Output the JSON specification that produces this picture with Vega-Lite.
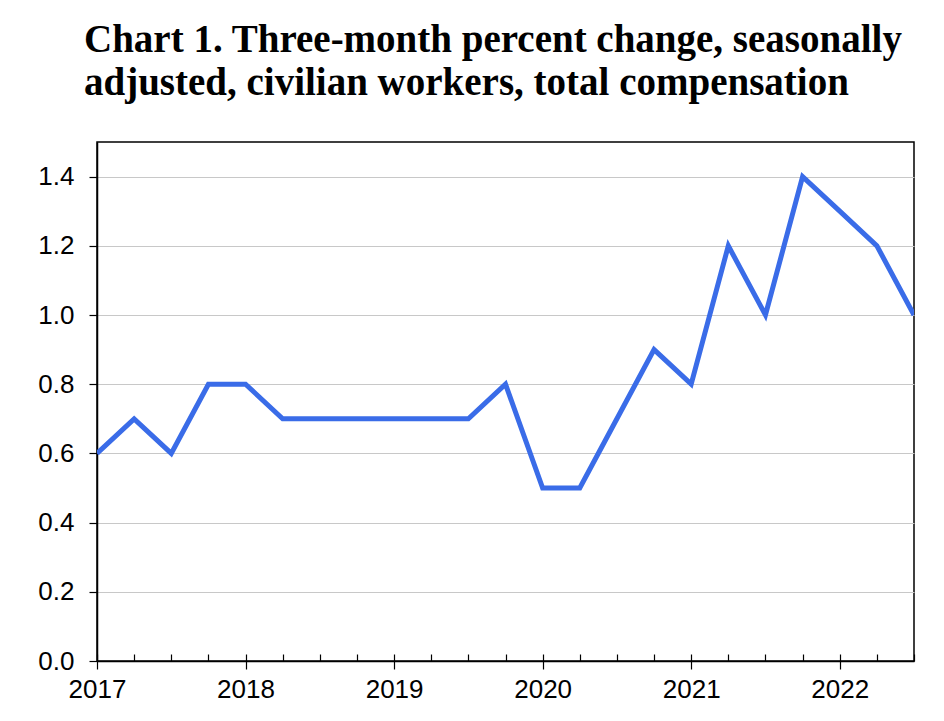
{
  "$schema": "https://vega.github.io/schema/vega-lite/v6.json",
  "autosize": "none",
  "padding": {"left": 97, "top": 142, "right": 30, "bottom": 60},
  "width": 817,
  "height": 519,
  "background": "white",
  "title": {
    "text": ["Chart 1. Three-month percent change, seasonally", "adjusted, civilian workers, total compensation"],
    "anchor": "start",
    "frame": "group",
    "dx": -13,
    "offset": 39,
    "font": "Liberation Serif",
    "fontSize": 39,
    "fontWeight": "bold",
    "color": "black",
    "lineHeight": 43
  },
  "config": {
    "view": {"stroke": "black", "strokeWidth": 1.5},
    "axis": {
      "labelFont": "Liberation Sans",
      "labelFontSize": 26,
      "labelColor": "black",
      "domainColor": "black",
      "tickColor": "black",
      "domainWidth": 1.5,
      "tickWidth": 1.2,
      "labelFlush": false,
      "labelOverlap": false
    }
  },
  "data": {
    "values": [
      {"t": 2017.0, "v": 0.6},
      {"t": 2017.25, "v": 0.7},
      {"t": 2017.5, "v": 0.6},
      {"t": 2017.75, "v": 0.8},
      {"t": 2018.0, "v": 0.8},
      {"t": 2018.25, "v": 0.7},
      {"t": 2018.5, "v": 0.7},
      {"t": 2018.75, "v": 0.7},
      {"t": 2019.0, "v": 0.7},
      {"t": 2019.25, "v": 0.7},
      {"t": 2019.5, "v": 0.7},
      {"t": 2019.75, "v": 0.8},
      {"t": 2020.0, "v": 0.5},
      {"t": 2020.25, "v": 0.5},
      {"t": 2020.5, "v": 0.7},
      {"t": 2020.75, "v": 0.9},
      {"t": 2021.0, "v": 0.8},
      {"t": 2021.25, "v": 1.2},
      {"t": 2021.5, "v": 1.0},
      {"t": 2021.75, "v": 1.4},
      {"t": 2022.0, "v": 1.3},
      {"t": 2022.25, "v": 1.2},
      {"t": 2022.5, "v": 1.0}
    ]
  },
  "layer": [
    {
      "mark": {"type": "line", "color": "#3A6CE8", "strokeWidth": 5, "strokeJoin": "miter", "clip": true},
      "encoding": {
        "x": {
          "field": "t",
          "type": "quantitative",
          "scale": {"domain": [2017, 2022.5], "nice": false, "zero": false},
          "axis": {
            "orient": "bottom",
            "values": [2017, 2018, 2019, 2020, 2021, 2022],
            "format": "d",
            "title": null,
            "grid": false,
            "tickSize": 8,
            "labelPadding": 7,
            "labelFlush": false,
            "domain": true
          }
        },
        "y": {
          "field": "v",
          "type": "quantitative",
          "scale": {"domain": [0, 1.5], "nice": false},
          "axis": {
            "values": [0, 0.2, 0.4, 0.6, 0.8, 1.0, 1.2, 1.4],
            "format": ".1f",
            "title": null,
            "grid": true,
            "gridColor": "#C8C8C8",
            "gridWidth": 1,
            "tickSize": 8,
            "labelPadding": 15,
            "labelFlush": false,
            "domain": true
          }
        }
      }
    },
    {
      "mark": {"type": "line", "opacity": 0},
      "encoding": {
        "x": {
          "field": "t",
          "type": "quantitative",
          "axis": {
            "orient": "bottom",
            "values": [2017, 2017.25, 2017.5, 2017.75, 2018, 2018.25, 2018.5, 2018.75, 2019, 2019.25, 2019.5, 2019.75, 2020, 2020.25, 2020.5, 2020.75, 2021, 2021.25, 2021.5, 2021.75, 2022, 2022.25, 2022.5],
            "labels": false,
            "title": null,
            "grid": false,
            "tickSize": -7,
            "domain": false
          }
        },
        "y": {"field": "v", "type": "quantitative"}
      }
    }
  ],
  "resolve": {"axis": {"x": "independent"}}
}
